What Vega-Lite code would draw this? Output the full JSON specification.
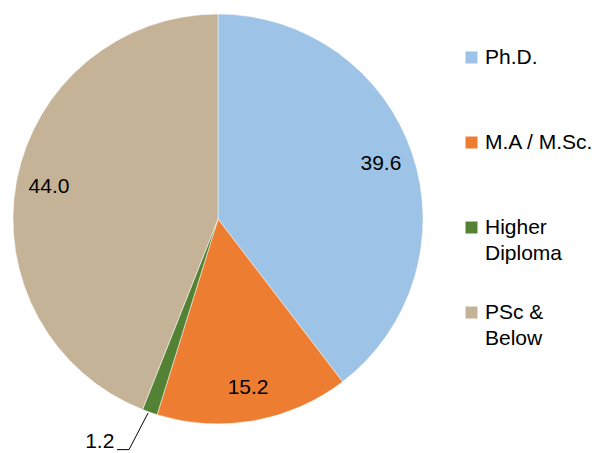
{
  "$schema": "https://vega.github.io/schema/vega-lite/v6.json",
  "width": 436,
  "height": 438,
  "autosize": "none",
  "padding": {"left": 0, "top": 0, "right": 162, "bottom": 15},
  "background": "white",
  "config": {"view": {"stroke": null}, "font": "Liberation Sans", "style": {"guide-label": {"lineHeight": 26}}},
  "datasets": {
    "slices": [
      {"level": "Ph.D.", "value": 39.6, "order": 1, "label": "39.6"},
      {"level": "M.A / M.Sc.", "value": 15.2, "order": 2, "label": "15.2"},
      {"level": "Higher Diploma", "value": 1.2, "order": 3, "label": "1.2"},
      {"level": "PSc & Below", "value": 44.0, "order": 4, "label": "44.0"}
    ],
    "leader": [
      {"px": -0.341, "py": -0.946, "seq": 1},
      {"px": -0.434, "py": -1.125, "seq": 2},
      {"px": -0.493, "py": -1.125, "seq": 3}
    ]
  },
  "layer": [
    {
      "data": {"name": "slices"},
      "mark": {"type": "arc", "radius": 205, "stroke": "white", "strokeWidth": 0.5},
      "encoding": {
        "theta": {"field": "value", "type": "quantitative", "stack": true},
        "order": {"field": "order", "type": "quantitative"},
        "color": {
          "field": "level",
          "type": "nominal",
          "scale": {
            "domain": ["Ph.D.", "M.A / M.Sc.", "Higher Diploma", "PSc & Below"],
            "range": ["#9DC3E6", "#ED7D31", "#548235", "#C4B396"]
          },
          "legend": {
            "title": null,
            "orient": "none",
            "legendX": 461,
            "legendY": 47,
            "symbolType": "square",
            "symbolSize": 144,
            "symbolStrokeWidth": 0,
            "labelFontSize": 21,
            "labelFont": "Liberation Sans",
            "labelColor": "black",
            "labelOffset": 3,
            "labelLimit": 200,
            "gridAlign": "all",
            "rowPadding": 37,
            "labelExpr": "datum.label == 'Higher Diploma' ? ['Higher', 'Diploma'] : datum.label == 'PSc & Below' ? ['PSc &', 'Below'] : datum.label"
          }
        }
      }
    },
    {
      "data": {"name": "slices"},
      "mark": {"type": "text", "radius": 172, "fontSize": 21, "font": "Liberation Sans", "color": "black"},
      "encoding": {
        "theta": {"field": "value", "type": "quantitative", "stack": true},
        "order": {"field": "order", "type": "quantitative"},
        "text": {"field": "label"},
        "opacity": {"condition": {"test": "datum.value > 5", "value": 1}, "value": 0}
      }
    },
    {
      "data": {"name": "slices"},
      "mark": {"type": "text", "radius": 235, "dx": -40, "dy": 1, "fontSize": 21, "font": "Liberation Sans", "color": "black"},
      "encoding": {
        "theta": {"field": "value", "type": "quantitative", "stack": true},
        "order": {"field": "order", "type": "quantitative"},
        "text": {"field": "label"},
        "opacity": {"condition": {"test": "datum.value < 5", "value": 1}, "value": 0}
      }
    },
    {
      "data": {"name": "leader"},
      "mark": {"type": "line", "color": "black", "strokeWidth": 1, "clip": false},
      "encoding": {
        "x": {"field": "px", "type": "quantitative", "scale": {"domain": [-1.0634, 1.0634], "nice": false, "zero": false}, "axis": null},
        "y": {"field": "py", "type": "quantitative", "scale": {"domain": [-1.0683, 1.0683], "nice": false, "zero": false}, "axis": null},
        "order": {"field": "seq", "type": "quantitative"}
      }
    }
  ]
}
